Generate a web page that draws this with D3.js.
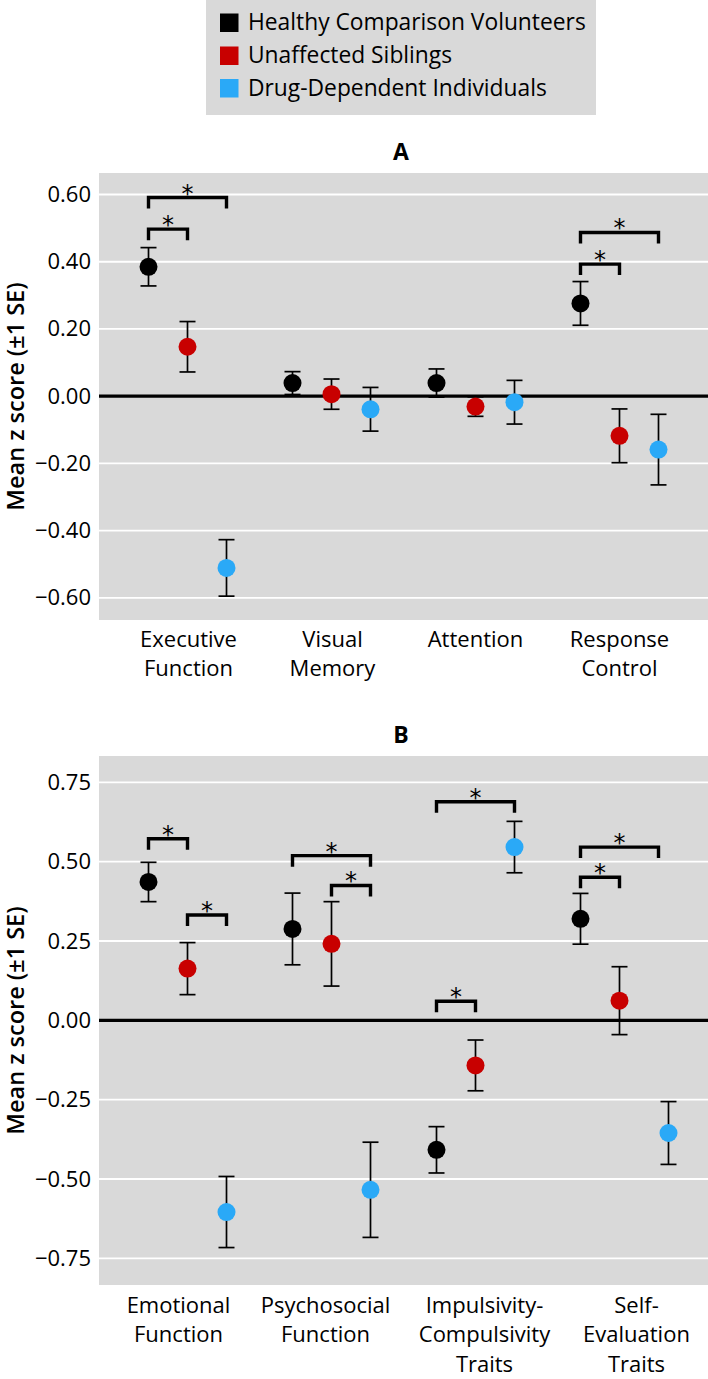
<!DOCTYPE html>
<html>
<head>
<meta charset="utf-8">
<script src="https://cdn.jsdelivr.net/npm/d3@7"></script>
<style>
  html, body { margin: 0; padding: 0; background: #ffffff; }
  svg { display: block; font-family: "Open Sans", "DejaVu Sans", sans-serif; }
</style>
</head>
<body>
<svg id="chart" width="708" height="1379"></svg>
<script>
// ---------------- DATA ----------------
const seriesNames = ["Healthy Comparison Volunteers", "Unaffected Siblings", "Drug-Dependent Individuals"];
const seriesColors = ["#000000", "#c80000", "#2aa9f7"];

// Panel A
const catsA = ["Executive Function", "Visual Memory", "Attention", "Response Control"];
const labelLinesA = [["Executive", "Function"], ["Visual", "Memory"], ["Attention"], ["Response", "Control"]];
const healthyA = [0.385, 0.039, 0.039, 0.276];
const siblingsA = [0.147, 0.006, -0.031, -0.118];
const drugA = [-0.511, -0.039, -0.018, -0.159];
const healthyA_se = [0.057, 0.034, 0.042, 0.065];
const siblingsA_se = [0.075, 0.045, 0.029, 0.080];
const drugA_se = [0.084, 0.065, 0.065, 0.105];
const ticksA = [0.60, 0.40, 0.20, 0.00, -0.20, -0.40, -0.60];
const bracketsA = [
  { cat: "Executive Function", from: 0, to: 1, level: 0.497 },
  { cat: "Executive Function", from: 0, to: 2, level: 0.591 },
  { cat: "Response Control", from: 0, to: 1, level: 0.393 },
  { cat: "Response Control", from: 0, to: 2, level: 0.487 }
];

// Panel B
const catsB = ["Emotional Function", "Psychosocial Function", "Impulsivity-Compulsivity Traits", "Self-Evaluation Traits"];
const labelLinesB = [["Emotional", "Function"], ["Psychosocial", "Function"], ["Impulsivity-", "Compulsivity", "Traits"], ["Self-", "Evaluation", "Traits"]];
const healthyB = [0.436, 0.288, -0.408, 0.320];
const siblingsB = [0.163, 0.241, -0.142, 0.062];
const drugB = [-0.604, -0.534, 0.546, -0.355];
const healthyB_se = [0.062, 0.113, 0.073, 0.080];
const siblingsB_se = [0.082, 0.133, 0.080, 0.107];
const drugB_se = [0.112, 0.150, 0.081, 0.099];
const ticksB = [0.75, 0.50, 0.25, 0.00, -0.25, -0.50, -0.75];
const bracketsB = [
  { cat: "Emotional Function", from: 0, to: 1, level: 0.572 },
  { cat: "Emotional Function", from: 1, to: 2, level: 0.332 },
  { cat: "Psychosocial Function", from: 0, to: 2, level: 0.519 },
  { cat: "Psychosocial Function", from: 1, to: 2, level: 0.425 },
  { cat: "Impulsivity-Compulsivity Traits", from: 0, to: 2, level: 0.689 },
  { cat: "Impulsivity-Compulsivity Traits", from: 0, to: 1, level: 0.060 },
  { cat: "Self-Evaluation Traits", from: 0, to: 2, level: 0.546 },
  { cat: "Self-Evaluation Traits", from: 0, to: 1, level: 0.451 }
];

// ---------------- LAYOUT ----------------
const svg = d3.select("#chart");
const plotLeft = 99, plotRight = 708;
const dodge = [-39, 0, 39];
const fmt = v => (v < 0 ? "\u2212" : "") + Math.abs(v).toFixed(2);

const panels = [
  {
    title: "A", titleY: 160, top: 173, bottom: 620, domain: [-0.666, 0.664],
    cats: catsA, lines: labelLinesA, ticks: ticksA, brackets: bracketsA,
    means: [healthyA, siblingsA, drugA], ses: [healthyA_se, siblingsA_se, drugA_se],
    labelShift: [1, 1, 0, 0], labelY: 646.5, pointShift: [[0,0,0],[0,0,0],[0,0,0],[0,0,0]]
  },
  {
    title: "B", titleY: 743, top: 756, bottom: 1285, domain: [-0.834, 0.833],
    cats: catsB, lines: labelLinesB, ticks: ticksB, brackets: bracketsB,
    means: [healthyB, siblingsB, drugB], ses: [healthyB_se, siblingsB_se, drugB_se],
    labelShift: [-9, -6, 9, 17], labelY: 1312.5, pointShift: [[0,0,0],[0,0,0],[0,0,0],[0,0,10]]
  }
];

// Legend
const legend = svg.append("g");
legend.append("rect").attr("x", 206).attr("y", 0).attr("width", 390).attr("height", 115).attr("fill", "#d9d9d9");
const legendBase = [30, 63, 95.5];
seriesNames.forEach((name, i) => {
  legend.append("rect").attr("x", 220).attr("y", legendBase[i] - 16.5).attr("width", 18.5).attr("height", 18.5)
    .attr("fill", seriesColors[i]);
  legend.append("text").attr("x", 248).attr("y", legendBase[i]).attr("font-size", 22.8).attr("fill", "#000").text(name);
});

panels.forEach(p => {
  const g = svg.append("g");
  const x = d3.scalePoint().domain(p.cats).range([plotLeft, plotRight]).padding(0.6146);
  const y = d3.scaleLinear().domain(p.domain).range([p.bottom, p.top]);

  // title
  g.append("text").attr("x", 401).attr("y", p.titleY).attr("text-anchor", "middle")
    .attr("font-size", 23).attr("font-weight", 700).attr("fill", "#000").text(p.title);

  // background
  g.append("rect").attr("x", plotLeft).attr("y", p.top).attr("width", plotRight - plotLeft)
    .attr("height", p.bottom - p.top).attr("fill", "#d9d9d9");

  // y axis (labels + gridlines)
  const yAxis = d3.axisLeft(y).tickValues(p.ticks).tickFormat(fmt).tickSize(0).tickPadding(8);
  const ax = g.append("g").attr("transform", `translate(${plotLeft},0)`).call(yAxis);
  ax.select(".domain").remove();
  ax.selectAll("text").attr("font-size", 22).attr("fill", "#000").attr("font-family", '"Open Sans", sans-serif');

  g.append("g").selectAll("line").data(p.ticks.filter(t => t !== 0)).join("line")
    .attr("x1", plotLeft).attr("x2", plotRight)
    .attr("y1", d => y(d)).attr("y2", d => y(d))
    .attr("stroke", "#ffffff").attr("stroke-width", 1.8);
  g.append("line").attr("x1", plotLeft).attr("x2", plotRight).attr("y1", y(0)).attr("y2", y(0))
    .attr("stroke", "#000").attr("stroke-width", 3.2);

  // y axis title
  const cy = (p.top + p.bottom) / 2;
  g.append("text").attr("transform", `translate(24,${cy}) rotate(-90)`).attr("text-anchor", "middle")
    .attr("font-size", 23.5).attr("font-weight", 600).attr("fill", "#000").text("Mean z score (\u00b11 SE)");

  // x labels
  p.cats.forEach((c, i) => {
    const t = g.append("text").attr("text-anchor", "middle").attr("font-size", 22).attr("fill", "#000");
    p.lines[i].forEach((ln, j) => {
      t.append("tspan").attr("x", x(c) + p.labelShift[i]).attr("y", p.labelY + j * 29.8).text(ln);
    });
  });

  // points data
  const pts = [];
  p.cats.forEach((c, i) => {
    for (let s = 0; s < 3; s++) {
      pts.push({ cat: c, s, m: p.means[s][i], se: p.ses[s][i], px: x(c) + dodge[s] + p.pointShift[i][s] });
    }
  });

  // error bars
  const eb = g.append("g").attr("stroke", "#000").attr("stroke-width", 1.7).attr("fill", "none");
  pts.forEach(d => {
    eb.append("line").attr("x1", d.px).attr("x2", d.px).attr("y1", y(d.m + d.se)).attr("y2", y(d.m - d.se));
    eb.append("line").attr("x1", d.px - 8).attr("x2", d.px + 8).attr("y1", y(d.m + d.se)).attr("y2", y(d.m + d.se));
    eb.append("line").attr("x1", d.px - 8).attr("x2", d.px + 8).attr("y1", y(d.m - d.se)).attr("y2", y(d.m - d.se));
  });

  // points
  g.append("g").selectAll("circle").data(pts).join("circle")
    .attr("cx", d => d.px).attr("cy", d => y(d.m)).attr("r", 9)
    .attr("fill", d => seriesColors[d.s]);

  // brackets
  const bg = g.append("g");
  p.brackets.forEach(b => {
    const x1 = x(b.cat) + dodge[b.from], x2 = x(b.cat) + dodge[b.to];
    const by = y(b.level);
    bg.append("path").attr("d", `M${x1},${by + 11}V${by}H${x2}V${by + 11}`)
      .attr("fill", "none").attr("stroke", "#000").attr("stroke-width", 3.4).attr("stroke-linejoin", "miter");
    bg.append("text").attr("x", (x1 + x2) / 2).attr("y", by + 4).attr("text-anchor", "middle")
      .attr("font-size", 24).attr("fill", "#000").attr("font-family", '"DejaVu Sans", sans-serif').text("*");
  });
});
</script>
</body>
</html>
